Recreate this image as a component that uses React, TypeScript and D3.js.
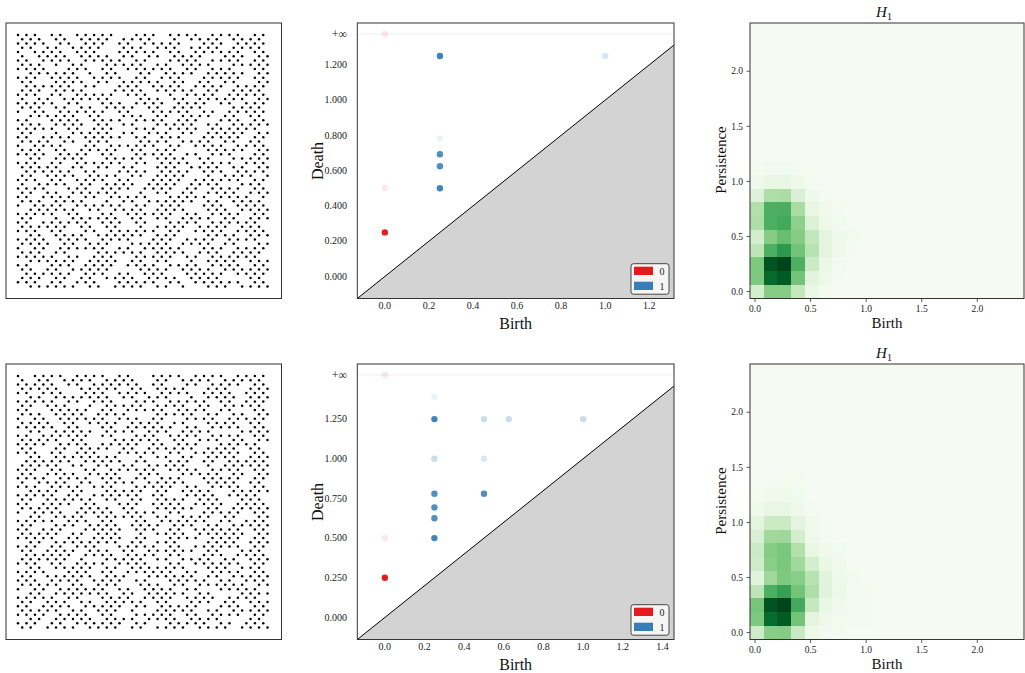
import React from 'react';
import * as d3 from 'd3';

// ---------- point clouds (hex rows, 60 columns each, checkerboard lattice) ----------
const cloudTopRows = [
  'A8A2AA0A8AA2A8A','545154550455154','AA28A8A2AA0A8AA','514550545455154','8AA2A0AA8A2AA8A',
  '455154514550545','A2A8AA8A0AA2A8A','544505545154155','AA0A8A2AA8A2A0A','155445051545545',
  'A8AA2A8A2A0AA8A','505514554514505','2AA8A0A8AA2A8AA','545501545545154','A8A2AA2A08AA2AA',
  '451554054515545','AA8A0A8AA2A8A2A','545145514550154','8A2AA8A0AA8A2AA','155450545154514',
  'A0AA2A8AA2A0A8A','545514505545155','AA8A2A0A8AA2AA8','504554515145545','A2A8AA8A2A0AA8A',
  '551454055154514','8AA0A2AA8A2A8AA','545155145405545','AA2A8A0AA8A2A0A','145505545514155',
  'A8A2AA8A2A8AA2A','554514505455145','2AA8A0AA2A8A8AA','515455145504551','A8A2A8A0AA2AA8A',
  '455145515455054','AA0A8AA2A8A2A8A','514555045145515','A2A8A2AA0AA8AA2','545504515545154',
  '8AA2AA8A2A0A8AA','155451545505455','AA8A0A2AA8A2A8A','504555145154515','A2AA8A8A0AA2AA8',
  '555145045515454','A8A0A2AA8A2A8AA','145515545405515','AA2A8AA0A8AA2A8','551454155154505',
  '8A2AA8A2AA0A8AA','545015545515154','AA8A2A0AA8A2AA8','155455145045515','A0A8AA2A8AA2A8A',
  '514554055154555','2AA8A8A2A0AA8AA','545145515455014','A8A2A0AA8A2AA8A','155451545105455',
];
const cloudBottomRows = [
  '8AA2A8A0AA2A8AA','451545505154554','AA8A2AA8A0A2A8A','554155145505415','A2A0A8AA2A8AA2A',
  '145554515045515','AA8A2A0A8AA8A2A','515045545514554','A0AA8A2AA2A8A0A','545515405545145',
  '8A2AA8A8A0AA2AA','551455154505514','AA8A0A2AA8A2A8A','145545515154055','A2AA8A0A8AA2A8A',
  '554501554515145','AA2A8AA8A2A0AA8','505154515545514','A8A2A0AA8A2AA8A','145555045145515',
  '2AA8AA8A0A8A2AA','554514515504555','A8A0A2AA8AA2A8A','515455054155145','AA2A8A8A2A0AA8A',
  '455145515505514','A8AA2A0AA8A2A8A','154505545154155','AA8A2AA8A0AA2A8','515545145515054',
  'A2A8A0A8AA2A8AA','554154505545155','8AA2AA2A8A0AA8A','145515545154505','AA8A8A0A2AA8A2A',
  '505455154545155','A2A0AA8A8A2AA8A','554515045515545','AA8A2A8A0AA2A8A','145555145405515',
  'A8A2A0AA8A2AA8A','515454515545054','2AA8AA2A8A0A8AA','555105545154515','A8A2A8AA0A2AA8A',
  '145545155505454','AA0A8A2AA8A2A8A','515545415545155','A8AA2A8A0AA8A2A','554515054515545',
  '8A2AA8A2A8A0AA8','145554515514055','AA8A0AA2A8AA2A8','515145545054515','A2A8AA8A2AA0A8A',
  '554515105545155','AA2A8A0AA8A2A8A','145545515455014','A8A2AA8A0AA8A2A','515455145515455',
];

// ---------- persistence diagrams ----------
type Pt = { birth: number; death: number; count: number };
const diagTopDim0: Pt[] = [
  { birth: 0, death: 0.25, count: 40 },
  { birth: 0, death: 0.5, count: 1 },
  { birth: 0, death: Infinity, count: 1 },
];
const diagTopDim1: Pt[] = [
  { birth: 0.25, death: 1.25, count: 30 },
  { birth: 0.25, death: 0.782, count: 1 },
  { birth: 0.25, death: 0.693, count: 20 },
  { birth: 0.25, death: 0.625, count: 20 },
  { birth: 0.25, death: 0.5, count: 30 },
  { birth: 1.0, death: 1.25, count: 2 },
];
const diagBottomDim0: Pt[] = [
  { birth: 0, death: 0.25, count: 40 },
  { birth: 0, death: 0.5, count: 1 },
  { birth: 0, death: Infinity, count: 1 },
];
const diagBottomDim1: Pt[] = [
  { birth: 0.25, death: 1.389, count: 1 },
  { birth: 0.25, death: 1.25, count: 30 },
  { birth: 0.5, death: 1.25, count: 3 },
  { birth: 0.625, death: 1.25, count: 3 },
  { birth: 1.0, death: 1.25, count: 3 },
  { birth: 0.25, death: 1.0, count: 3 },
  { birth: 0.5, death: 1.0, count: 2 },
  { birth: 0.25, death: 0.78, count: 20 },
  { birth: 0.5, death: 0.78, count: 20 },
  { birth: 0.25, death: 0.694, count: 20 },
  { birth: 0.25, death: 0.625, count: 20 },
  { birth: 0.25, death: 0.5, count: 30 },
];
const diagTopXTicks = [0, 0.2, 0.4, 0.6, 0.8, 1.0, 1.2];
const diagTopYTicks = [0, 0.2, 0.4, 0.6, 0.8, 1.0, 1.2];
const diagBottomXTicks = [0, 0.2, 0.4, 0.6, 0.8, 1.0, 1.2, 1.4];
const diagBottomYTicks = [0, 0.25, 0.5, 0.75, 1.0, 1.25];
const legendLabels = ['0', '1'];

// ---------- persistence images (rows from low persistence upward, columns by birth) ----------
const imgTop: number[][] = [
  [0.20, 0.45, 0.45, 0.25, 0.08, 0.03, 0.015],
  [0.47, 0.88, 0.93, 0.50, 0.13, 0.07, 0.03, 0.015],
  [0.47, 0.95, 1.00, 0.60, 0.23, 0.08, 0.04, 0.02],
  [0.28, 0.60, 0.70, 0.50, 0.30, 0.12, 0.06, 0.03],
  [0.20, 0.45, 0.53, 0.45, 0.26, 0.12, 0.06, 0.04],
  [0.33, 0.60, 0.63, 0.43, 0.16, 0.07, 0.04, 0.02],
  [0.32, 0.60, 0.61, 0.35, 0.10, 0.05, 0.03],
  [0.15, 0.33, 0.34, 0.17, 0.06, 0.03],
  [0.06, 0.09, 0.09, 0.06, 0.03],
  [0.03, 0.04, 0.04, 0.03],
];
const imgBottom: number[][] = [
  [0.22, 0.44, 0.45, 0.24, 0.07, 0.04, 0.03, 0.02, 0.02, 0.02],
  [0.47, 0.87, 0.93, 0.50, 0.12, 0.06, 0.04, 0.03, 0.03, 0.02],
  [0.49, 0.95, 1.00, 0.63, 0.25, 0.09, 0.05, 0.04, 0.03, 0.02],
  [0.28, 0.60, 0.67, 0.50, 0.33, 0.14, 0.07, 0.04, 0.03],
  [0.14, 0.375, 0.47, 0.44, 0.30, 0.14, 0.06, 0.04],
  [0.22, 0.44, 0.48, 0.37, 0.20, 0.09, 0.05],
  [0.23, 0.45, 0.48, 0.32, 0.10, 0.05, 0.04],
  [0.18, 0.37, 0.38, 0.20, 0.06, 0.03],
  [0.12, 0.23, 0.23, 0.12, 0.05, 0.03],
  [0.06, 0.10, 0.10, 0.06, 0.03],
  [0.03, 0.05, 0.05, 0.04, 0.02],
  [0.02, 0.03, 0.03, 0.025],
];
const imgBaseline = 0.012;
const imgTicks = [0, 0.5, 1.0, 1.5, 2.0];
const imgTitle = 'H';
const imgTitleSub = '1';

const SERIF = '"Liberation Serif", "DejaVu Serif", serif';
const AX_H = 275.5;
const ROW_TOPS = [23, 364];
const RED = '#e41a1c';
const BLUE = '#377eb8';

function Cloud({ rows, top }: { rows: string[]; top: number }) {
  const nCols = rows[0].length * 4;
  const x = d3.scaleLinear().domain([0, nCols - 1]).range([18, 267.5]);
  const y = d3.scaleLinear().domain([0, rows.length - 1]).range([top + 12, top + 263.5]);
  const pts: [number, number][] = [];
  rows.forEach((row, r) => {
    row.split('').forEach((h, k) => {
      const v = parseInt(h, 16);
      for (let b = 0; b < 4; b++) {
        if (v & (8 >> b)) pts.push([k * 4 + b, r]);
      }
    });
  });
  return (
    <g>
      {pts.map(([c, r], i) => (
        <circle key={i} cx={x(c)} cy={y(r)} r={1.25} fill="#000" />
      ))}
      <rect x={6} y={top} width={275.5} height={AX_H} fill="none" stroke="#333" strokeWidth={1} />
    </g>
  );
}

function Diagram({ dim0, dim1, xTicks, yTicks, top }: { dim0: Pt[]; dim1: Pt[]; xTicks: number[]; yTicks: number[]; top: number }) {
  const all = [...dim0, ...dim1];
  const minBirth = d3.min(all, (d) => d.birth) as number;
  const maxDeath = d3.max(all.filter((d) => isFinite(d.death)), (d) => d.death) as number;
  const delta = (maxDeath - minBirth) * 0.1;
  const inf = maxDeath + delta;
  const axisEnd = maxDeath + delta / 2;
  const axisStart = minBirth - delta;
  const L = 357.3, R = 674;
  const x = d3.scaleLinear().domain([axisStart, axisEnd]).range([L, R]);
  const y = d3.scaleLinear().domain([axisStart, inf + delta / 2]).range([top + AX_H, top]);
  const op = (n: number) => 1 - Math.pow(0.9, n);
  const fillPath = `M${x(axisStart)},${y(axisStart)} L${x(axisEnd)},${y(axisEnd)} L${x(axisEnd)},${y(axisStart)} Z`;
  const B = top + AX_H;
  return (
    <g fontFamily={SERIF}>
      <path d={fillPath} fill="#d3d3d3" />
      <line x1={x(axisStart)} y1={y(axisStart)} x2={x(axisEnd)} y2={y(axisEnd)} stroke="#000" strokeWidth={1} />
      <line x1={x(axisStart)} y1={y(inf)} x2={x(axisEnd)} y2={y(inf)} stroke="#000" strokeOpacity={0.07} strokeWidth={1} />
      {dim0.map((d, i) => (
        <circle key={'a' + i} cx={x(d.birth)} cy={y(isFinite(d.death) ? d.death : inf)} r={3.2} fill={RED} fillOpacity={op(d.count)} />
      ))}
      {dim1.map((d, i) => (
        <circle key={'b' + i} cx={x(d.birth)} cy={y(isFinite(d.death) ? d.death : inf)} r={3.2} fill={BLUE} fillOpacity={op(d.count)} />
      ))}
      <rect x={L} y={top} width={R - L} height={AX_H} fill="none" stroke="#333" strokeWidth={1} />
      {xTicks.map((t) => (
        <text key={'x' + t} x={x(t)} y={B + 10} fontSize={10} textAnchor="middle" fill="#222">{t.toFixed(1)}</text>
      ))}
      {yTicks.map((t) => (
        <text key={'y' + t} x={347} y={y(t) + 3.3} fontSize={10} textAnchor="end" fill="#222">{t.toFixed(3)}</text>
      ))}
      <text x={347} y={y(inf) + 3.8} fontSize={12} textAnchor="end" fill="#222">+∞</text>
      <text x={(L + R) / 2} y={B + 30} fontSize={16} textAnchor="middle" fill="#111">Birth</text>
      <text transform={`translate(323,${top + 138}) rotate(-90)`} fontSize={16} textAnchor="middle" fill="#111">Death</text>
      <g>
        <rect x={631} y={top + 240.7} width={38} height={30.5} rx={2.5} fill="#f5f5f5" stroke="#333" strokeWidth={0.9} />
        {[RED, BLUE].map((c, i) => (
          <g key={c}>
            <rect x={634} y={top + 243.7 + i * 15} width={19} height={8.3} fill={c} />
            <text x={662} y={top + 251.6 + i * 15} fontSize={10} textAnchor="middle" fill="#222">{legendLabels[i]}</text>
          </g>
        ))}
      </g>
    </g>
  );
}

function PImage({ data, top }: { data: number[][]; top: number }) {
  const L = 750, R = 1024;
  const xd: [number, number] = [-0.045, 2.42];
  const yd: [number, number] = [-0.063, 2.438];
  const x = d3.scaleLinear().domain(xd).range([L, R]);
  const y = d3.scaleLinear().domain(yd).range([top + AX_H, top]);
  const n = 20;
  const xe = d3.range(n + 1).map((i) => xd[0] + (i * (xd[1] - xd[0])) / n);
  const ye = d3.range(n + 1).map((i) => yd[0] + (i * (yd[1] - yd[0])) / n);
  const cells: { r: number; c: number; v: number }[] = [];
  for (let r = 0; r < n; r++) for (let c = 0; c < n; c++) cells.push({ r, c, v: data[r]?.[c] ?? imgBaseline });
  const B = top + AX_H;
  return (
    <g fontFamily={SERIF}>
      {cells.map((d) => (
        <rect key={d.r + '-' + d.c} x={x(xe[d.c])} y={y(ye[d.r + 1])} width={x(xe[d.c + 1]) - x(xe[d.c]) + 0.3}
          height={y(ye[d.r]) - y(ye[d.r + 1]) + 0.3} fill={d3.interpolateGreens(d.v)} shapeRendering="crispEdges" />
      ))}
      <rect x={L} y={top} width={R - L} height={AX_H} fill="none" stroke="#333" strokeWidth={1} />
      {imgTicks.map((t) => (
        <g key={'x' + t}>
          <line x1={x(t)} x2={x(t)} y1={B} y2={B + 3.5} stroke="#333" strokeWidth={0.8} />
          <text x={x(t)} y={B + 13.5} fontSize={9.5} textAnchor="middle" fill="#222">{t.toFixed(1)}</text>
        </g>
      ))}
      {imgTicks.map((t) => (
        <g key={'y' + t}>
          <line x1={L - 3.5} x2={L} y1={y(t)} y2={y(t)} stroke="#333" strokeWidth={0.8} />
          <text x={743} y={y(t) + 3.2} fontSize={9.5} textAnchor="end" fill="#222">{t.toFixed(1)}</text>
        </g>
      ))}
      <text x={(L + R) / 2} y={B + 29} fontSize={15} textAnchor="middle" fill="#111">Birth</text>
      <text transform={`translate(725.5,${top + 137}) rotate(-90)`} fontSize={15} textAnchor="middle" fill="#111">Persistence</text>
      <text x={(L + R) / 2 - 3} y={top - 6} fontSize={15} textAnchor="middle" fill="#111">
        <tspan fontStyle="italic">{imgTitle}</tspan>
        <tspan fontSize={10} dy={3}>{imgTitleSub}</tspan>
      </text>
    </g>
  );
}

export default function App() {
  return (
    <svg width={1025} height={673} style={{ position: 'absolute', left: 0, top: 0, background: '#fff' }}>
      <rect width={1025} height={673} fill="#fff" />
      <Cloud rows={cloudTopRows} top={ROW_TOPS[0]} />
      <Cloud rows={cloudBottomRows} top={ROW_TOPS[1]} />
      <Diagram dim0={diagTopDim0} dim1={diagTopDim1} xTicks={diagTopXTicks} yTicks={diagTopYTicks} top={ROW_TOPS[0]} />
      <Diagram dim0={diagBottomDim0} dim1={diagBottomDim1} xTicks={diagBottomXTicks} yTicks={diagBottomYTicks} top={ROW_TOPS[1]} />
      <PImage data={imgTop} top={ROW_TOPS[0]} />
      <PImage data={imgBottom} top={ROW_TOPS[1]} />
    </svg>
  );
}
